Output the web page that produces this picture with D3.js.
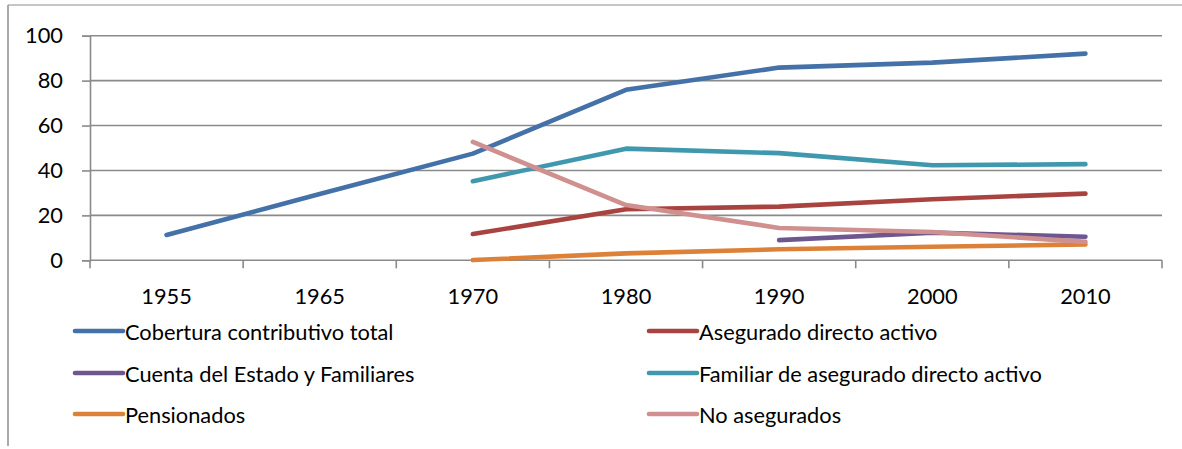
<!DOCTYPE html>
<html>
<head>
<meta charset="utf-8">
<script src="https://cdn.jsdelivr.net/npm/d3@7"></script>
<style>
  html, body { margin: 0; padding: 0; background: #fff; }
  svg { display: block; font-family: Lato, "Open Sans", sans-serif; }
</style>
</head>
<body>
<svg id="chart" width="1182" height="449"></svg>
<script>
// Categories along the horizontal axis
const years = ["1955", "1965", "1970", "1980", "1990", "2000", "2010"];
const yTicks = [0, 20, 40, 60, 80, 100];

// Series values (percent); null where no value exists
const coberturaTotal   = [11.3, 29.5, 47.5, 75.9, 85.8, 88.0, 92.0];
const aseguradoDirecto = [null, null, 11.7, 22.7, 23.9, 27.2, 29.7];
const cuentaEstado     = [null, null, null, null, 9.0, 12.3, 10.5];
const familiarAseg     = [null, null, 35.2, 49.7, 47.7, 42.3, 42.8];
const pensionados      = [null, null, 0.1, 3.1, 4.9, 6.0, 7.1];
const noAsegurados     = [null, null, 52.7, 24.6, 14.4, 12.6, 8.2];

const seriesNames = [
  "Cobertura contributivo total",
  "Asegurado directo activo",
  "Cuenta del Estado y Familiares",
  "Familiar de asegurado directo activo",
  "Pensionados",
  "No asegurados"
];
const seriesColors = ["#4471A8", "#A94340", "#6E568F", "#3F98AE", "#DD8138", "#CF908F"];
const seriesValues = [coberturaTotal, aseguradoDirecto, cuentaEstado, familiarAseg, pensionados, noAsegurados];

const fontSize = "21.8px";

const svg = d3.select("#chart");
const plot = { left: 90, right: 1162, top: 35.7, bottom: 260.3 };

const x = d3.scaleBand().domain(years).range([plot.left, plot.right]).padding(0);
const y = d3.scaleLinear().domain([0, 100]).range([plot.bottom, plot.top]);

const gridColor = "#8A8A8A";

// Outer chart frame (top and left edges)
svg.append("line").attr("x1", 8).attr("x2", 1182).attr("y1", 5).attr("y2", 5)
  .attr("stroke", "#8E8E8E").attr("stroke-width", 1.2);
svg.append("line").attr("x1", 8).attr("x2", 8).attr("y1", 5).attr("y2", 446)
  .attr("stroke", "#8E8E8E").attr("stroke-width", 1.5);

// Horizontal gridlines
svg.append("g").selectAll("line").data(yTicks.filter(d => d > 0)).join("line")
  .attr("x1", plot.left).attr("x2", plot.right)
  .attr("y1", d => y(d)).attr("y2", d => y(d))
  .attr("stroke", gridColor).attr("stroke-width", 1.6);

// Y axis
const yAxis = d3.axisLeft(y).tickValues(yTicks).tickSize(8).tickPadding(19);
const gy = svg.append("g").attr("transform", `translate(${plot.left},0)`).call(yAxis);
gy.select(".domain").attr("stroke", gridColor).attr("stroke-width", 1.6);
gy.selectAll(".tick line").attr("stroke", gridColor).attr("stroke-width", 1.6);
gy.selectAll(".tick text").attr("fill", "#000").style("font-size", fontSize)
  .style("font-family", "Lato, 'Open Sans', sans-serif");

// X axis: ticks at category boundaries, labels at category centres
const boundaries = years.map(d => x(d)).concat([plot.right]);
const gx = svg.append("g");
gx.append("line").attr("x1", plot.left).attr("x2", plot.right)
  .attr("y1", plot.bottom).attr("y2", plot.bottom)
  .attr("stroke", gridColor).attr("stroke-width", 1.6);
gx.selectAll("line.tk").data(boundaries).join("line").attr("class", "tk")
  .attr("x1", d => d).attr("x2", d => d)
  .attr("y1", plot.bottom).attr("y2", plot.bottom + 8)
  .attr("stroke", gridColor).attr("stroke-width", 1.6);
gx.selectAll("text").data(years).join("text")
  .attr("x", d => x(d) + x.bandwidth() / 2)
  .attr("y", 304)
  .attr("text-anchor", "middle")
  .style("font-size", fontSize)
  .attr("fill", "#000")
  .text(d => d);

// Series lines
const line = d3.line()
  .defined(d => d.v !== null)
  .x(d => x(d.year) + x.bandwidth() / 2)
  .y(d => y(d.v));

seriesValues.forEach((vals, i) => {
  const pts = years.map((yr, j) => ({ year: yr, v: vals[j] }));
  svg.append("path")
    .datum(pts)
    .attr("d", line)
    .attr("fill", "none")
    .attr("stroke", seriesColors[i])
    .attr("stroke-width", 4.6)
    .attr("stroke-linecap", "round")
    .attr("stroke-linejoin", "round");
});

// Legend: two columns, three rows
const legendCols = [75, 649];
const legendRows = [331, 373, 414];
const legend = svg.append("g");
seriesNames.forEach((name, i) => {
  const col = i % 2, row = Math.floor(i / 2);
  const lx = legendCols[col], ly = legendRows[row];
  legend.append("line")
    .attr("x1", lx).attr("x2", lx + 48)
    .attr("y1", ly).attr("y2", ly)
    .attr("stroke", seriesColors[i]).attr("stroke-width", 4.6)
    .attr("stroke-linecap", "round");
  legend.append("text")
    .attr("x", lx + 50).attr("y", ly)
    .attr("dominant-baseline", "central")
    .style("font-size", fontSize)
    .attr("fill", "#000")
    .text(name);
});
</script>
</body>
</html>
